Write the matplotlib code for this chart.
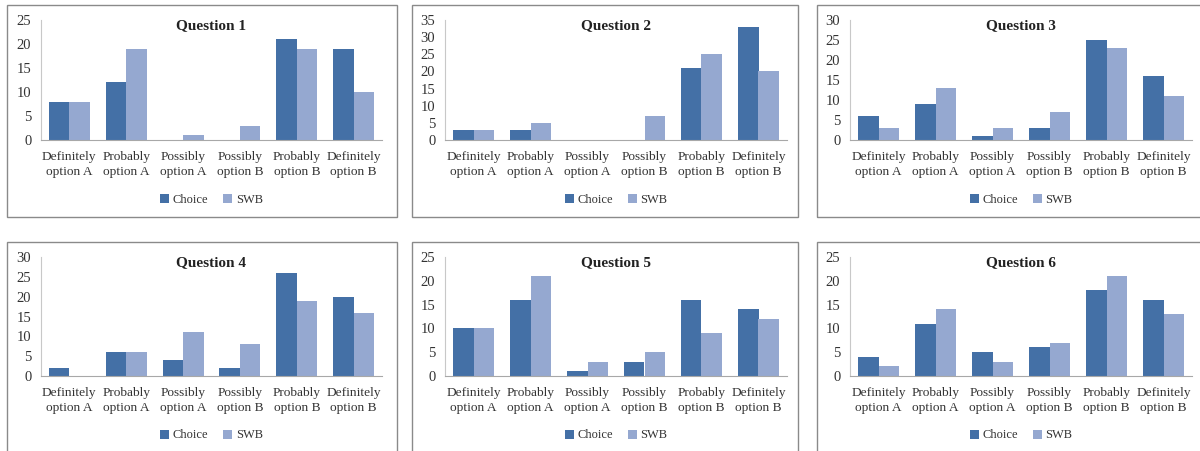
import matplotlib.pyplot as plt
from matplotlib.patches import Rectangle
import numpy as np

CATEGORIES = ['Definitely\noption A', 'Probably\noption A', 'Possibly\noption A',
              'Possibly\noption B', 'Probably\noption B', 'Definitely\noption B']
TITLES = ['Question 1', 'Question 2', 'Question 3', 'Question 4', 'Question 5', 'Question 6']
SERIES = ['Choice', 'SWB']

choice = [
    [8, 12, 0, 0, 21, 19],
    [3, 3, 0, 0, 21, 33],
    [6, 9, 1, 3, 25, 16],
    [2, 6, 4, 2, 26, 20],
    [10, 16, 1, 3, 16, 14],
    [4, 11, 5, 6, 18, 16],
]
swb = [
    [8, 19, 1, 3, 19, 10],
    [3, 5, 0, 7, 25, 20],
    [3, 13, 3, 7, 23, 11],
    [0, 6, 11, 8, 19, 16],
    [10, 21, 3, 5, 9, 12],
    [2, 14, 3, 7, 21, 13],
]
YMAX = [25, 35, 30, 30, 25, 25]

C_CHOICE = '#4470A6'
C_SWB = '#95A8D0'

W, H = 1200, 451
plt.rcParams['font.family'] = ['Liberation Serif', 'DejaVu Serif']
fig = plt.figure(figsize=(W / 100, H / 100), dpi=100)

# pixel layout: frame left/right + axes left/right per column, frame top/bottom + axes top/bottom per row
cols = [(7, 397, 41, 382), (412, 798, 445, 787), (817, 1210, 850, 1192)]
rows = [(5, 217, 20, 140), (242, 460, 257, 376)]

x = np.arange(len(CATEGORIES))
bw = 0.36
for i in range(6):
    fl, fr, al, ar = cols[i % 3]
    ft, fb, at, ab = rows[i // 3]
    fig.patches.append(Rectangle((fl / W, 1 - fb / H), (fr - fl) / W, (fb - ft) / H,
                                 transform=fig.transFigure, fill=False,
                                 edgecolor='#8a8a8a', linewidth=1.0))
    ax = fig.add_axes([al / W, 1 - ab / H, (ar - al) / W, (ab - at) / H])
    ax.bar(x - bw / 2, choice[i], bw, color=C_CHOICE, label=SERIES[0])
    ax.bar(x + bw / 2, swb[i], bw, color=C_SWB, label=SERIES[1])
    ax.set_xlim(-0.5, 5.5)
    ax.set_ylim(0, YMAX[i])
    ax.set_yticks(range(0, YMAX[i] + 1, 5))
    ax.set_xticks(x)
    ax.set_xticklabels(CATEGORIES, fontsize=9.6, color='#333333', linespacing=1.35)
    ax.tick_params(axis='y', labelsize=10.5, labelcolor='#333333', length=0, pad=7)
    ax.tick_params(axis='x', length=0, pad=8)
    for s in ['top', 'right']:
        ax.spines[s].set_visible(False)
    ax.spines['left'].set_color('#c8c8c8')
    ax.spines['bottom'].set_color('#a8a8a8')
    ax.text(0.5, 0.95, TITLES[i], transform=ax.transAxes, ha='center', va='center',
            fontsize=11, fontweight='bold', color='#222222')
    ax.legend(loc='center', bbox_to_anchor=(0.5, -0.5), ncol=2, frameon=False,
              fontsize=9, handlelength=0.7, handleheight=0.7, handletextpad=0.3,
              columnspacing=1.2, labelcolor='#333333')

fig.savefig('out.png', dpi=100)
